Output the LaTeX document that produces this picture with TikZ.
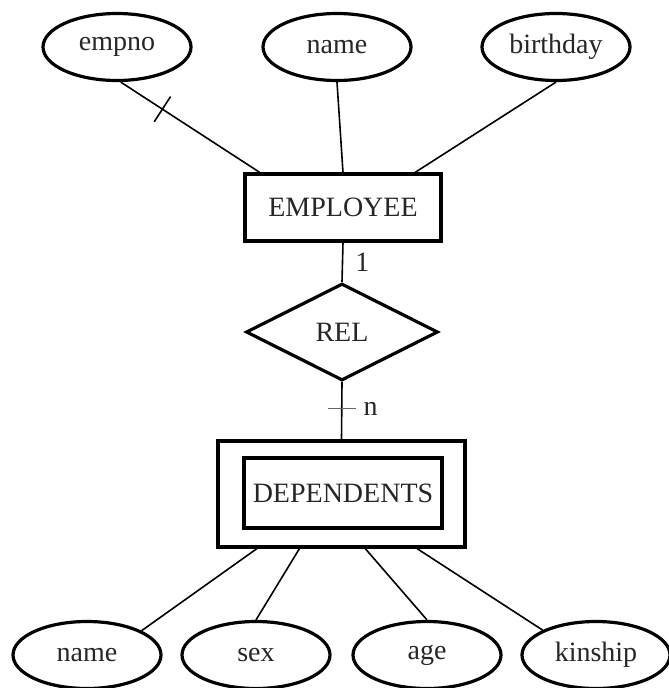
\documentclass[tikz,border=0pt]{standalone}
\usepackage{fontspec}
\setmainfont{Liberation Serif}
\usetikzlibrary{shapes.geometric,calc}
\begin{document}
\begin{tikzpicture}[x=1pt,y=-1pt,
  txt/.style={font=\fontsize{28}{32}\selectfont,text=black!85},
  attr/.style={ellipse,draw,line width=3.2pt,minimum width=148pt,minimum height=67pt,inner sep=0pt,txt},
  ent/.style={rectangle,draw,line width=3.2pt,inner sep=0pt,txt},
  relship/.style={diamond,draw,line width=3.2pt,minimum width=192pt,minimum height=97pt,inner sep=0pt,txt},
  conn/.style={line width=1.6pt},
  card/.style={anchor=west,inner sep=0pt,txt},
  tickmark/.style={line width=1.6pt}]
\useasboundingbox (0,0) rectangle (669,688);
% attributes of EMPLOYEE
\node[attr] (e1) at (117,47) {empno};
\node[attr] (e2) at (337,47) {name};
\node[attr] (e3) at (556,47) {birthday};
% entities
\node[ent,minimum width=196pt,minimum height=67pt] (emp) at (343,207.5) {EMPLOYEE};
\node[relship] (rel) at (342,332) {REL};
\node[ent,minimum width=247pt,minimum height=106pt] (dep) at (341.5,494) {};
\node[ent,minimum width=198pt,minimum height=70pt] (depin) at (343,493) {DEPENDENTS};
% attributes of DEPENDENTS
\node[attr] (b1) at (87,655) {name};
\node[attr] (b2) at (256,655) {sex};
\node[attr] (b3) at (427,655) {age};
\node[attr] (b4) at (596,655) {kinship};
% connectors top
\draw[conn] (e1.-84) -- ($(emp.north west)!0.082!(emp.north east)$) coordinate[pos=0.3] (t1);
\draw[tickmark] ($(t1)!15pt!90:(e1.-84)$) -- ($(t1)!15pt!-90:(e1.-84)$);
\draw[conn] (e2.south) -- (emp.north);
\draw[conn] (e3.south) -- ($(emp.north west)!0.862!(emp.north east)$);
% relationship connectors
\draw[conn] (emp.south) -- (rel.north) node[card,pos=0.5,xshift=12pt] {1};
\draw[conn] (rel.south) -- (dep.north) coordinate[pos=0.46] (t2) node[card,pos=0.46,xshift=21pt] {n};
\draw[tickmark,black!60] ($(t2)+(-14,0)$) -- ($(t2)+(14,0)$);
% connectors bottom
\draw[conn] ($(dep.south west)!0.162!(dep.south east)$) -- (b1.24);
\draw[conn] ($(dep.south west)!0.332!(dep.south east)$) -- (b2.north);
\draw[conn] ($(dep.south west)!0.595!(dep.south east)$) -- (b3.north);
\draw[conn] ($(dep.south west)!0.802!(dep.south east)$) -- (b4.155);
\end{tikzpicture}
\end{document}
